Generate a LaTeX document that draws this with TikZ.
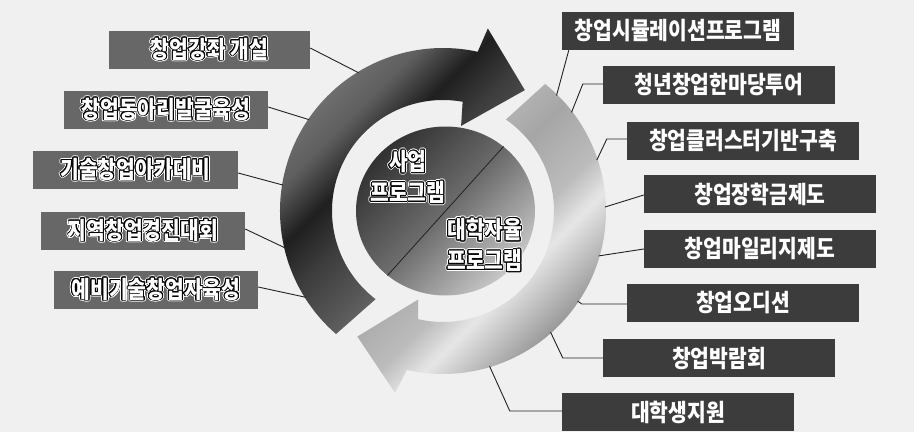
\documentclass[tikz,border=0pt]{standalone}
\usepackage{fontspec}
\newfontfamily\krfont{Noto Sans CJK KR}[FakeStretch=0.85]
\usepackage{xcolor}
\usepackage{contour}
\usetikzlibrary{positioning,shapes.geometric}

\definecolor{bgcol}{HTML}{F0F0F0}
\definecolor{lboxcol}{HTML}{676768}
\definecolor{rboxcol}{HTML}{3C3C3C}
\definecolor{linecol}{HTML}{222222}
% metallic tones
\definecolor{dmA}{HTML}{7C7C7C}
\definecolor{dmB}{HTML}{767676}
\definecolor{dmC}{HTML}{5E5E5E}
\definecolor{dmD}{HTML}{1F1F1F}
\definecolor{dmE}{HTML}{3C3C3C}
\definecolor{dmF}{HTML}{585858}
\definecolor{dmG}{HTML}{6E6E6E}
\definecolor{lmA}{HTML}{B8B8B8}
\definecolor{lmB}{HTML}{A6A6A6}
\definecolor{lmC}{HTML}{BCBCBC}
\definecolor{lmD}{HTML}{E6E6E6}
\definecolor{lmE}{HTML}{D0D0D0}
\definecolor{lmF}{HTML}{9C9C9C}
\definecolor{lmG}{HTML}{B0B0B0}
\definecolor{cmA}{HTML}{333333}
\definecolor{cmB}{HTML}{6C6C6C}
\definecolor{cmC}{HTML}{C6C6C6}

\pgfdeclarehorizontalshading{darkmetal}{400bp}{color(0bp)=(dmA); color(20bp)=(dmB);
  color(70bp)=(dmC); color(112bp)=(dmD); color(150bp)=(dmE); color(200bp)=(dmF);
  color(235bp)=(dmG); color(400bp)=(dmB)}
\pgfdeclarehorizontalshading{lightmetal}{400bp}{color(0bp)=(lmA); color(150bp)=(lmC);
  color(210bp)=(lmB); color(268bp)=(lmC); color(300bp)=(lmD); color(318bp)=(lmE);
  color(360bp)=(lmF); color(400bp)=(lmG)}
\pgfdeclarehorizontalshading{diskmetal}{200bp}{color(0bp)=(cmA); color(15bp)=(cmA);
  color(100bp)=(cmB); color(185bp)=(cmC); color(200bp)=(cmC)}

% white letters, black rim, white halo
\newcommand{\halotext}[1]{\contourlength{1.9pt}\rlap{\contour{white}{#1}}%
  \contourlength{0.9pt}\contour{black}{#1}}

\tikzset{
  lbox/.style={fill=lboxcol, text=white, minimum width=204pt, minimum height=38pt,
    inner sep=0pt, font=\krfont\bfseries\fontsize{24}{28}\selectfont},
  rbox/.style={fill=rboxcol, text=white, minimum width=232pt, minimum height=38pt,
    inner sep=0pt, font=\krfont\bfseries\fontsize{24}{28}\selectfont},
  conn/.style={draw=linecol, line width=0.9pt},
  coretext/.style={text=white, align=center,
    font=\krfont\bfseries\fontsize{24}{31}\selectfont}
}

\begin{document}
\begin{tikzpicture}[x=1pt,y=1pt]
      \useasboundingbox (-443,-221) rectangle (471,211);
      \fill[bgcol] (-443,-221) rectangle (471,211);

      % dark arrow (clockwise, over the top)
      \path[path picture={\node[rotate=-45,inner sep=0pt] at (0,0) {\pgfuseshading{darkmetal}};}]
        (229:163) arc[start angle=229, end angle=77.7, radius=163]
        -- (76.2:188) -- (55.9:146) -- (78:87) -- (79.8:111)
        arc[start angle=79.8, end angle=232.6, radius=111] -- cycle;

      % light arrow (clockwise, under the bottom)
      \path[path picture={\node[rotate=-45,inner sep=0pt] at (0,0) {\pgfuseshading{lightmetal}};}]
        (51.2:163) arc[start angle=51.2, end angle=-102.8, radius=163]
        -- (-104.8:188) -- (-124.3:152) -- (-105.7:92) -- (-102.9:111)
        arc[start angle=-102.9, end angle=55.5, radius=111] -- cycle;

      % centre disk
      \node[ellipse, minimum width=179pt, minimum height=169pt, inner sep=0pt,
        path picture={\node[rotate=-45,inner sep=0pt] at (path picture bounding box.center) {\pgfuseshading{diskmetal}};}]
        (core) at (2.5,0) {};
      \draw[draw=linecol, line width=0.8pt] (core.48.7) -- (core.228.7);
      \node[coretext] (biz) at (-35,33) {\halotext{사업}\\\halotext{프로그램}};
      \node[coretext] (univ) at (42,-35) {\halotext{대학자율}\\\halotext{프로그램}};

      % left boxes
      \node[lbox, minimum width=201pt] (s1) at (-233.5,161) {\halotext{창업강좌 개설}};
      \node[lbox] (s2) at (-277,101) {\halotext{창업동아리발굴육성}};
      \node[lbox, minimum width=205pt] (s3) at (-307.5,41) {\halotext{기술창업아카데비}};
      \node[lbox] (s4) at (-300,-20) {\halotext{지역창업경진대회}};
      \node[lbox] (s5) at (-287,-79) {\halotext{예비기술창업자육성}};

      % right boxes
      \node[rbox] (u1) at (235,180) {창업시뮬레이션프로그램};
      \node[rbox] (u2) at (276,126) {청년창업한마당투어};
      \node[rbox] (u3) at (300,70) {창업클러스터기반구축};
      \node[rbox] (u4) at (317,17) {창업장학금제도};
      \node[rbox] (u5) at (317,-38) {창업마일리지제도};
      \node[rbox] (u6) at (300,-92) {창업오디션};
      \node[rbox] (u7) at (276,-147) {창업박람회};
      \node[rbox] (u8) at (235,-201) {대학생지원};

      % points on the ring
      \coordinate (p1) at (121.4:162);
      \coordinate (p2) at (145.7:162);
      \coordinate (p3) at (170.8:162);
      \coordinate (p4) at (193.2:162);
      \coordinate (p5) at (212.2:162);
      \coordinate (q1) at (45.5:162);
      \coordinate (q2) at (37.5:162);
      \coordinate (q3) at (18.3:162);
      \coordinate (q4) at (1.4:162);
      \coordinate (q5) at (-16.1:162);
      \coordinate (q6) at (-33.8:162);
      \coordinate (q7) at (-48.4:162);
      \coordinate (q8) at (-73.3:162);

      \draw[conn] ([yshift=2pt]s1.east) -- (p1);
      \draw[conn] ([yshift=3pt]s2.east) -- (p2);
      \draw[conn] ([yshift=-3pt]s3.east) -- (p3);
      \draw[conn] ([yshift=2pt]s4.east) -- (p4);
      \draw[conn] ([yshift=3pt]s5.east) -- (p5);

      \draw[conn] ([xshift=7pt]u1.south west) -- (q1);
      \draw[conn] ([yshift=1pt]u2.west) -- ++(-20,0) -- (q2);
      \draw[conn] ([yshift=2pt]u3.west) -- ++(-20,0) -- (q3);
      \draw[conn] ([yshift=-1pt]u4.west) -- (q4);
      \draw[conn] ([yshift=0pt]u5.west) -- (q5);
      \draw[conn] ([yshift=-1pt]u6.west) -- ++(-45,0) -- (q6);
      \draw[conn] (u7.west) -- ++(-40,0) -- (q7);
      \draw[conn] ([yshift=1pt]u8.west) -- ++(-52,0) -- (q8);

\end{tikzpicture}
\end{document}
